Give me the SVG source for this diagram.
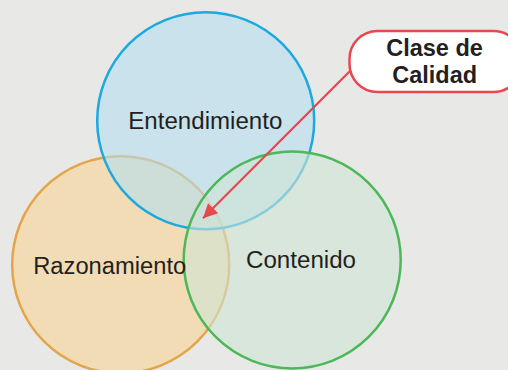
<svg xmlns="http://www.w3.org/2000/svg" width="508" height="370" viewBox="0 0 508 370">
<defs>
<style>
.c{stroke-width:2.5}
.lbl{font-family:"Liberation Sans",Arial,sans-serif;font-size:23px;fill:#231f20;text-anchor:middle}
.b{font-family:"Liberation Sans",Arial,sans-serif;font-size:23.5px;font-weight:bold;fill:#231f20;text-anchor:middle}
</style>
<marker id="ah" viewBox="0 0 10 10" refX="10" refY="5" markerWidth="8" markerHeight="6.5" markerUnits="strokeWidth" orient="auto">
<path d="M0,0 L10,5 L0,10 z" fill="#e8474f"/>
</marker>
</defs>
<rect width="508" height="370" fill="#e8e8e6"/>
<g id="razonamiento">
<circle class="c" cx="120.7" cy="264.7" r="108.5" fill="rgb(249,212,148)" fill-opacity="0.6" stroke="#e4a54a"/>
</g>
<g id="entendimiento">
<circle class="c" cx="205.7" cy="120.7" r="108.5" fill="rgb(180,222,240)" fill-opacity="0.6" stroke="#1ba9e0"/>
</g>
<g id="contenido">
<circle class="c" cx="292.2" cy="260" r="108.5" fill="rgb(207,229,213)" fill-opacity="0.6" stroke="#4cb858"/>
</g>
<g id="labels">
<text class="lbl" x="205.3" y="129.3" textLength="154" lengthAdjust="spacingAndGlyphs">Entendimiento</text>
<text class="lbl" x="109.7" y="274" textLength="153" lengthAdjust="spacingAndGlyphs">Razonamiento</text>
<text class="lbl" x="301" y="268.3" textLength="110" lengthAdjust="spacingAndGlyphs">Contenido</text>
</g>
<g id="clase-de-calidad">
<rect x="349.5" y="31" width="172" height="61" rx="28" ry="28" fill="#ffffff" stroke="#e8474f" stroke-width="2.5"/>
<text class="b" x="434.5" y="56">Clase de</text>
<text class="b" x="434.7" y="83.3">Calidad</text>
</g>
<g id="connectors">
<line x1="350" y1="71" x2="203" y2="218.3" stroke="#e8474f" stroke-width="2.2" marker-end="url(#ah)"/>
</g>
</svg>
